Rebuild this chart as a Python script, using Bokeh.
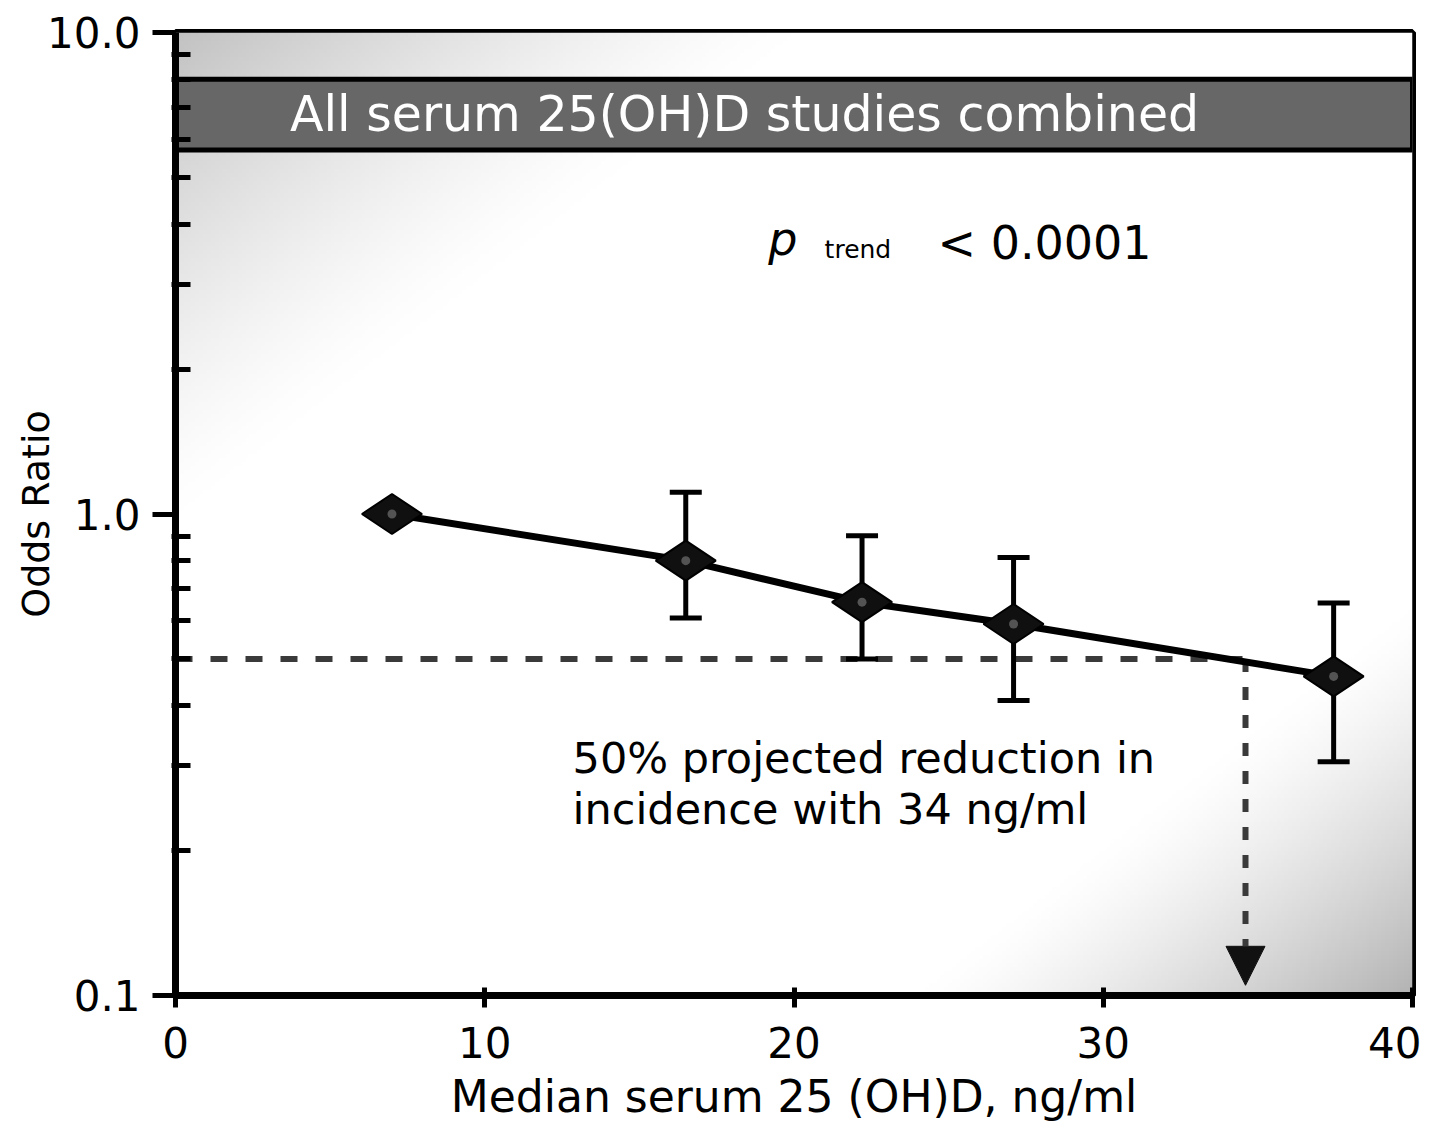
import numpy as np
from bokeh.plotting import figure
from bokeh.models import (FixedTicker, CustomJSTickFormatter, BoxAnnotation, Label,
                          Arrow, NormalHead, ColumnDataSource, Range1d)
from bokeh.embed import file_html
from bokeh.resources import INLINE

# ---------------- data ----------------
x_ticks = [0, 10, 20, 30, 40]
y_ticks = [0.1, 1.0, 10.0]
y_minor_ticks = [0.2, 0.3, 0.4, 0.5, 0.6, 0.7, 0.8, 0.9,
                 2, 3, 4, 5, 6, 7, 8, 9]

median_25ohd = [7.0, 16.5, 22.2, 27.1, 37.45]      # ng/ml
odds_ratio   = [1.00, 0.80, 0.656, 0.591, 0.460]
ci_lower     = [None, 0.608, 0.500, 0.410, 0.306]
ci_upper     = [None, 1.11, 0.901, 0.812, 0.653]

target_or = 0.5          # 50% reduction
target_level = 34.6      # projected serum level
band_lower, band_upper = 5.7, 8.0

band_text = "All serum 25(OH)D studies combined"
x_title = "Median serum 25 (OH)D, ng/ml"
y_title = "Odds Ratio"
note_line1 = "50% projected reduction in"
note_line2 = "incidence with 34 ng/ml"

X0, X1 = 0, 40
Y0, Y1 = 0.1, 10.0
FONT = "DejaVu Sans"

# ---------------- figure ----------------
p = figure(width=1421, height=1124, x_range=Range1d(X0, X1), y_range=Range1d(Y0, Y1),
           y_axis_type="log", output_backend="svg", toolbar_location=None,
           min_border_left=175, min_border_right=9, min_border_top=32, min_border_bottom=129)
p.grid.visible = False
p.background_fill_color = "white"
p.border_fill_color = "white"
p.outline_line_color = "black"
p.outline_line_width = 7

# background diagonal gradient (grey corners top-left and bottom-right)
nx, ny = 320, 240
gx = (np.arange(nx) + 0.5) / nx
gy = 1 - (np.arange(ny) + 0.5) / ny
GX, GY = np.meshgrid(gx, gy)
t = (GX + GY) / 2
v = (1 - 0.24 * np.clip((0.25 - t) / 0.25, 0, 1) ** 1.3
       - 0.30 * np.clip((t - 0.80) / 0.20, 0, 1) ** 1.3)
g = (np.clip(v, 0, 1) * 255).astype(np.uint8)
rgba = np.zeros((ny, nx, 4), dtype=np.uint8)
rgba[..., 0] = g
rgba[..., 1] = g
rgba[..., 2] = g
rgba[..., 3] = 255
img = rgba.view(np.uint32).reshape(ny, nx)
p.image_rgba(image=[img], x=X0, y=Y0, dw=X1 - X0, dh=Y1 - Y0, level="image")

# title band
band = BoxAnnotation(bottom=band_lower, top=band_upper, fill_color="#676767", fill_alpha=1.0,
                     line_color="black", line_alpha=1.0, line_width=5, level="underlay")
p.add_layout(band)
p.add_layout(Label(x=18.4, y=(band_lower * band_upper) ** 0.5, text=band_text,
                   text_color="white", text_font=FONT, text_font_size="49px",
                   text_align="center", text_baseline="middle"))

# ---------------- axes ----------------
p.xaxis.ticker = FixedTicker(ticks=x_ticks)
p.yaxis.ticker = FixedTicker(ticks=y_ticks, minor_ticks=y_minor_ticks)
p.yaxis.formatter = CustomJSTickFormatter(code="return tick.toFixed(1);")

for ax in (p.xaxis[0], p.yaxis[0]):
    ax.axis_line_width = 7
    ax.axis_line_color = "black"
    ax.major_tick_line_width = 5
    ax.major_tick_line_color = "black"
    ax.major_label_text_font = FONT
    ax.major_label_text_font_size = "42px"
    ax.major_label_text_color = "black"
    ax.axis_label_text_font = FONT
    ax.axis_label_text_font_style = "normal"
    ax.axis_label_text_color = "black"

p.xaxis.major_tick_out = 12
p.xaxis.major_tick_in = 8
p.xaxis.minor_tick_line_color = None
p.xaxis.major_label_standoff = 19
p.xaxis.axis_label = x_title
p.xaxis.axis_label_text_font_size = "44px"
p.xaxis.axis_label_standoff = 10

p.yaxis.major_tick_out = 23
p.yaxis.major_tick_in = 0
p.yaxis.minor_tick_in = 15
p.yaxis.minor_tick_out = 4
p.yaxis.minor_tick_line_width = 5
p.yaxis.minor_tick_line_color = "black"
p.yaxis.major_label_standoff = 12
p.yaxis.axis_label = y_title
p.yaxis.axis_label_text_font_size = "38px"
p.yaxis.axis_label_standoff = -14

# ---------------- reference lines ----------------
p.line(x=[X0, target_level], y=[target_or, target_or], line_dash="17 18",
       line_width=6, line_color="#3a3a3a", level="underlay")
p.add_layout(Arrow(end=NormalHead(size=39, fill_color="#111111", line_color="#111111"),
                   x_start=target_level, y_start=target_or,
                   x_end=target_level, y_end=0.105,
                   line_dash="13 15", line_width=6, line_color="#3a3a3a", level="underlay"))

# ---------------- data marks ----------------
src = ColumnDataSource(dict(x=median_25ohd, y=odds_ratio))
idx = [i for i, lo in enumerate(ci_lower) if lo is not None]
ci_src = ColumnDataSource(dict(x=[median_25ohd[i] for i in idx],
                               lo=[ci_lower[i] for i in idx],
                               hi=[ci_upper[i] for i in idx]))

p.segment(x0="x", y0="lo", x1="x", y1="hi", source=ci_src, line_width=5, line_color="black")
p.scatter("x", "lo", marker="dash", size=32, line_width=5, line_color="black", source=ci_src)
p.scatter("x", "hi", marker="dash", size=32, line_width=5, line_color="black", source=ci_src)
p.line("x", "y", source=src, line_width=7, line_color="black")
p.scatter("x", "y", marker="diamond", size=60, angle=np.pi / 2, fill_color="#101010",
          line_color="black", line_width=2, source=src)
p.scatter("x", "y", marker="circle", size=9, fill_color="#707070", fill_alpha=0.7,
          line_color=None, source=src)

# ---------------- texts ----------------
p.add_layout(Label(x=19.17, y=3.73, text="p", text_font=FONT, text_font_style="italic",
                   text_font_size="46px", text_color="black", text_baseline="alphabetic"))
p.add_layout(Label(x=20.99, y=3.54, text="trend", text_font=FONT,
                   text_font_size="25px", text_color="black", text_baseline="alphabetic"))
p.add_layout(Label(x=24.64, y=3.66, text="< 0.0001", text_font=FONT,
                   text_font_size="46px", text_color="black", text_baseline="alphabetic"))
p.add_layout(Label(x=12.84, y=0.312, text=note_line1, text_font=FONT,
                   text_font_size="43px", text_color="black", text_baseline="alphabetic"))
p.add_layout(Label(x=12.84, y=0.2445, text=note_line2, text_font=FONT,
                   text_font_size="43px", text_color="black", text_baseline="alphabetic"))

open("out.html", "w").write(file_html(p, INLINE))
